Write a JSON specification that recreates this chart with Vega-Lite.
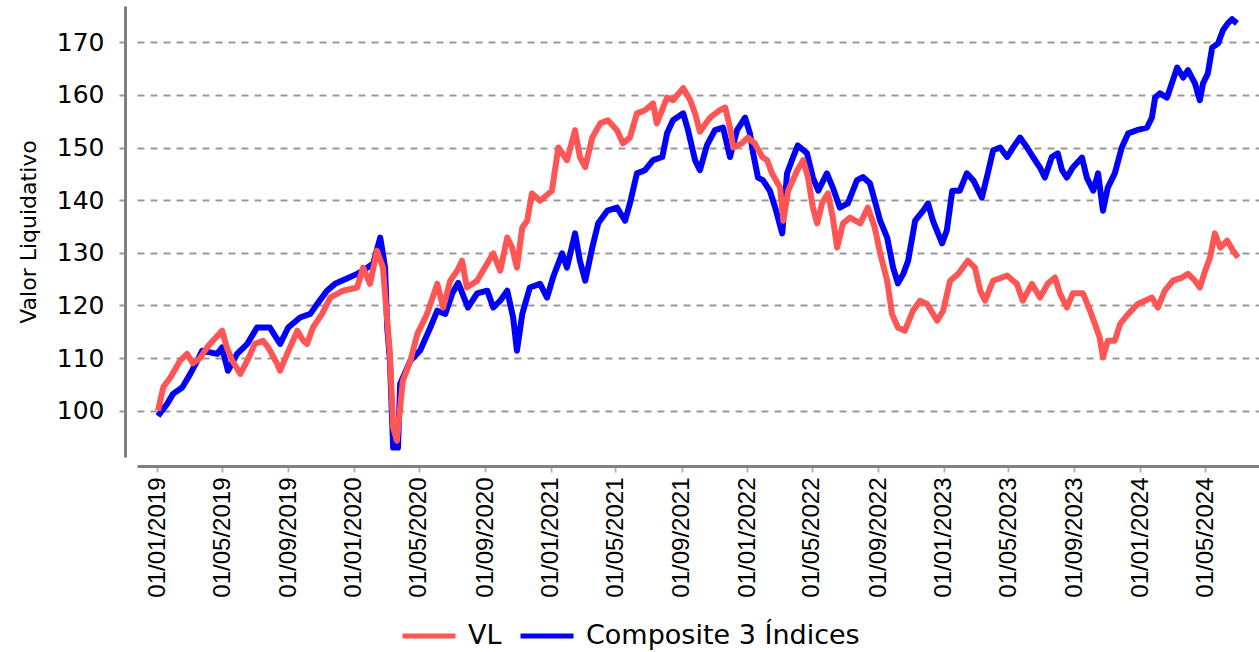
{
  "$schema": "https://vega.github.io/schema/vega-lite/v6.json",
  "autosize": "none",
  "padding": {"left": 137, "top": 6, "right": 0, "bottom": 195},
  "width": 1122,
  "height": 451,
  "background": "white",
  "config": {
    "view": {"stroke": null},
    "axis": {"labelColor": "black", "titleColor": "black"}
  },
  "data": {
    "values": [
      {"fecha": "2019-01-02", "serie": "Composite 3 Índices", "valor": 99},
      {"fecha": "2019-01-19", "serie": "Composite 3 Índices", "valor": 101.3},
      {"fecha": "2019-01-30", "serie": "Composite 3 Índices", "valor": 103.2},
      {"fecha": "2019-02-16", "serie": "Composite 3 Índices", "valor": 104.4},
      {"fecha": "2019-03-03", "serie": "Composite 3 Índices", "valor": 107},
      {"fecha": "2019-03-16", "serie": "Composite 3 Índices", "valor": 109.5},
      {"fecha": "2019-03-25", "serie": "Composite 3 Índices", "valor": 111.4},
      {"fecha": "2019-04-22", "serie": "Composite 3 Índices", "valor": 110.8},
      {"fecha": "2019-05-01", "serie": "Composite 3 Índices", "valor": 112},
      {"fecha": "2019-05-12", "serie": "Composite 3 Índices", "valor": 107.6},
      {"fecha": "2019-05-29", "serie": "Composite 3 Índices", "valor": 110.8},
      {"fecha": "2019-06-17", "serie": "Composite 3 Índices", "valor": 112.7},
      {"fecha": "2019-07-05", "serie": "Composite 3 Índices", "valor": 115.8},
      {"fecha": "2019-07-29", "serie": "Composite 3 Índices", "valor": 115.8},
      {"fecha": "2019-08-17", "serie": "Composite 3 Índices", "valor": 112.7},
      {"fecha": "2019-09-01", "serie": "Composite 3 Índices", "valor": 115.8},
      {"fecha": "2019-09-23", "serie": "Composite 3 Índices", "valor": 117.7},
      {"fecha": "2019-10-12", "serie": "Composite 3 Índices", "valor": 118.4},
      {"fecha": "2019-10-25", "serie": "Composite 3 Índices", "valor": 120.3},
      {"fecha": "2019-11-12", "serie": "Composite 3 Índices", "valor": 122.8},
      {"fecha": "2019-11-27", "serie": "Composite 3 Índices", "valor": 124.1},
      {"fecha": "2019-12-19", "serie": "Composite 3 Índices", "valor": 125.1},
      {"fecha": "2020-01-07", "serie": "Composite 3 Índices", "valor": 126},
      {"fecha": "2020-01-18", "serie": "Composite 3 Índices", "valor": 126.6},
      {"fecha": "2020-02-06", "serie": "Composite 3 Índices", "valor": 128},
      {"fecha": "2020-02-19", "serie": "Composite 3 Índices", "valor": 132.9},
      {"fecha": "2020-02-28", "serie": "Composite 3 Índices", "valor": 127.2},
      {"fecha": "2020-03-03", "serie": "Composite 3 Índices", "valor": 115.8},
      {"fecha": "2020-03-08", "serie": "Composite 3 Índices", "valor": 109.5},
      {"fecha": "2020-03-14", "serie": "Composite 3 Índices", "valor": 93},
      {"fecha": "2020-03-23", "serie": "Composite 3 Índices", "valor": 93},
      {"fecha": "2020-03-27", "serie": "Composite 3 Índices", "valor": 105.1},
      {"fecha": "2020-04-15", "serie": "Composite 3 Índices", "valor": 109.5},
      {"fecha": "2020-05-03", "serie": "Composite 3 Índices", "valor": 111.4},
      {"fecha": "2020-05-22", "serie": "Composite 3 Índices", "valor": 115.8},
      {"fecha": "2020-06-04", "serie": "Composite 3 Índices", "valor": 119},
      {"fecha": "2020-06-19", "serie": "Composite 3 Índices", "valor": 118.4},
      {"fecha": "2020-07-02", "serie": "Composite 3 Índices", "valor": 122.3},
      {"fecha": "2020-07-13", "serie": "Composite 3 Índices", "valor": 124.3},
      {"fecha": "2020-07-31", "serie": "Composite 3 Índices", "valor": 119.6},
      {"fecha": "2020-08-17", "serie": "Composite 3 Índices", "valor": 122.3},
      {"fecha": "2020-09-05", "serie": "Composite 3 Índices", "valor": 122.8},
      {"fecha": "2020-09-16", "serie": "Composite 3 Índices", "valor": 119.6},
      {"fecha": "2020-09-29", "serie": "Composite 3 Índices", "valor": 120.9},
      {"fecha": "2020-10-12", "serie": "Composite 3 Índices", "valor": 122.8},
      {"fecha": "2020-10-23", "serie": "Composite 3 Índices", "valor": 117.7},
      {"fecha": "2020-10-30", "serie": "Composite 3 Índices", "valor": 111.4},
      {"fecha": "2020-11-09", "serie": "Composite 3 Índices", "valor": 118.4},
      {"fecha": "2020-11-23", "serie": "Composite 3 Índices", "valor": 123.4},
      {"fecha": "2020-12-12", "serie": "Composite 3 Índices", "valor": 124.1},
      {"fecha": "2020-12-25", "serie": "Composite 3 Índices", "valor": 121.5},
      {"fecha": "2021-01-05", "serie": "Composite 3 Índices", "valor": 125.3},
      {"fecha": "2021-01-22", "serie": "Composite 3 Índices", "valor": 129.9},
      {"fecha": "2021-01-31", "serie": "Composite 3 Índices", "valor": 127.2},
      {"fecha": "2021-02-15", "serie": "Composite 3 Índices", "valor": 133.7},
      {"fecha": "2021-02-24", "serie": "Composite 3 Índices", "valor": 128.5},
      {"fecha": "2021-03-06", "serie": "Composite 3 Índices", "valor": 124.7},
      {"fecha": "2021-03-19", "serie": "Composite 3 Índices", "valor": 131},
      {"fecha": "2021-03-30", "serie": "Composite 3 Índices", "valor": 135.6},
      {"fecha": "2021-04-16", "serie": "Composite 3 Índices", "valor": 138},
      {"fecha": "2021-05-04", "serie": "Composite 3 Índices", "valor": 138.6},
      {"fecha": "2021-05-19", "serie": "Composite 3 Índices", "valor": 136.1},
      {"fecha": "2021-05-28", "serie": "Composite 3 Índices", "valor": 139.4},
      {"fecha": "2021-06-10", "serie": "Composite 3 Índices", "valor": 145.1},
      {"fecha": "2021-06-25", "serie": "Composite 3 Índices", "valor": 145.7},
      {"fecha": "2021-07-10", "serie": "Composite 3 Índices", "valor": 147.6},
      {"fecha": "2021-07-27", "serie": "Composite 3 Índices", "valor": 148.2},
      {"fecha": "2021-08-05", "serie": "Composite 3 Índices", "valor": 152.7},
      {"fecha": "2021-08-16", "serie": "Composite 3 Índices", "valor": 155.2},
      {"fecha": "2021-09-04", "serie": "Composite 3 Índices", "valor": 156.5},
      {"fecha": "2021-09-13", "serie": "Composite 3 Índices", "valor": 153.3},
      {"fecha": "2021-09-26", "serie": "Composite 3 Índices", "valor": 147.6},
      {"fecha": "2021-10-05", "serie": "Composite 3 Índices", "valor": 145.7},
      {"fecha": "2021-10-18", "serie": "Composite 3 Índices", "valor": 150.4},
      {"fecha": "2021-11-02", "serie": "Composite 3 Índices", "valor": 153.3},
      {"fecha": "2021-11-17", "serie": "Composite 3 Índices", "valor": 153.8},
      {"fecha": "2021-11-30", "serie": "Composite 3 Índices", "valor": 148.2},
      {"fecha": "2021-12-13", "serie": "Composite 3 Índices", "valor": 153.3},
      {"fecha": "2021-12-28", "serie": "Composite 3 Índices", "valor": 155.7},
      {"fecha": "2022-01-06", "serie": "Composite 3 Índices", "valor": 152.7},
      {"fecha": "2022-01-12", "serie": "Composite 3 Índices", "valor": 148.9},
      {"fecha": "2022-01-21", "serie": "Composite 3 Índices", "valor": 144.3},
      {"fecha": "2022-01-30", "serie": "Composite 3 Índices", "valor": 143.8},
      {"fecha": "2022-02-12", "serie": "Composite 3 Índices", "valor": 141.8},
      {"fecha": "2022-02-22", "serie": "Composite 3 Índices", "valor": 138.6},
      {"fecha": "2022-03-07", "serie": "Composite 3 Índices", "valor": 133.7},
      {"fecha": "2022-03-16", "serie": "Composite 3 Índices", "valor": 145.1},
      {"fecha": "2022-03-25", "serie": "Composite 3 Índices", "valor": 147.6},
      {"fecha": "2022-04-05", "serie": "Composite 3 Índices", "valor": 150.4},
      {"fecha": "2022-04-22", "serie": "Composite 3 Índices", "valor": 148.9},
      {"fecha": "2022-05-03", "serie": "Composite 3 Índices", "valor": 144.3},
      {"fecha": "2022-05-13", "serie": "Composite 3 Índices", "valor": 141.8},
      {"fecha": "2022-05-29", "serie": "Composite 3 Índices", "valor": 145.1},
      {"fecha": "2022-06-09", "serie": "Composite 3 Índices", "valor": 142.4},
      {"fecha": "2022-06-22", "serie": "Composite 3 Índices", "valor": 138.6},
      {"fecha": "2022-07-07", "serie": "Composite 3 Índices", "valor": 139.4},
      {"fecha": "2022-07-24", "serie": "Composite 3 Índices", "valor": 143.8},
      {"fecha": "2022-08-04", "serie": "Composite 3 Índices", "valor": 144.4},
      {"fecha": "2022-08-17", "serie": "Composite 3 Índices", "valor": 143.2},
      {"fecha": "2022-08-26", "serie": "Composite 3 Índices", "valor": 139.9},
      {"fecha": "2022-09-05", "serie": "Composite 3 Índices", "valor": 136.1},
      {"fecha": "2022-09-18", "serie": "Composite 3 Índices", "valor": 132.9},
      {"fecha": "2022-09-29", "serie": "Composite 3 Índices", "valor": 127.2},
      {"fecha": "2022-10-08", "serie": "Composite 3 Índices", "valor": 124.2},
      {"fecha": "2022-10-18", "serie": "Composite 3 Índices", "valor": 126},
      {"fecha": "2022-10-27", "serie": "Composite 3 Índices", "valor": 128.5},
      {"fecha": "2022-11-09", "serie": "Composite 3 Índices", "valor": 136.1},
      {"fecha": "2022-11-24", "serie": "Composite 3 Índices", "valor": 138},
      {"fecha": "2022-12-03", "serie": "Composite 3 Índices", "valor": 139.4},
      {"fecha": "2022-12-12", "serie": "Composite 3 Índices", "valor": 136.1},
      {"fecha": "2022-12-29", "serie": "Composite 3 Índices", "valor": 131.8},
      {"fecha": "2023-01-07", "serie": "Composite 3 Índices", "valor": 134.3},
      {"fecha": "2023-01-17", "serie": "Composite 3 Índices", "valor": 141.8},
      {"fecha": "2023-01-31", "serie": "Composite 3 Índices", "valor": 141.8},
      {"fecha": "2023-02-13", "serie": "Composite 3 Índices", "valor": 145.1},
      {"fecha": "2023-02-25", "serie": "Composite 3 Índices", "valor": 143.8},
      {"fecha": "2023-03-13", "serie": "Composite 3 Índices", "valor": 140.5},
      {"fecha": "2023-03-24", "serie": "Composite 3 Índices", "valor": 145.1},
      {"fecha": "2023-04-03", "serie": "Composite 3 Índices", "valor": 149.5},
      {"fecha": "2023-04-16", "serie": "Composite 3 Índices", "valor": 150},
      {"fecha": "2023-04-29", "serie": "Composite 3 Índices", "valor": 148.2},
      {"fecha": "2023-05-10", "serie": "Composite 3 Índices", "valor": 150},
      {"fecha": "2023-05-23", "serie": "Composite 3 Índices", "valor": 151.9},
      {"fecha": "2023-06-05", "serie": "Composite 3 Índices", "valor": 150},
      {"fecha": "2023-06-16", "serie": "Composite 3 Índices", "valor": 148.2},
      {"fecha": "2023-06-29", "serie": "Composite 3 Índices", "valor": 146.2},
      {"fecha": "2023-07-08", "serie": "Composite 3 Índices", "valor": 144.3},
      {"fecha": "2023-07-21", "serie": "Composite 3 Índices", "valor": 148.2},
      {"fecha": "2023-08-01", "serie": "Composite 3 Índices", "valor": 148.9},
      {"fecha": "2023-08-09", "serie": "Composite 3 Índices", "valor": 145.7},
      {"fecha": "2023-08-18", "serie": "Composite 3 Índices", "valor": 144.3},
      {"fecha": "2023-08-29", "serie": "Composite 3 Índices", "valor": 146.2},
      {"fecha": "2023-09-15", "serie": "Composite 3 Índices", "valor": 148.1},
      {"fecha": "2023-09-24", "serie": "Composite 3 Índices", "valor": 144.3},
      {"fecha": "2023-10-06", "serie": "Composite 3 Índices", "valor": 141.8},
      {"fecha": "2023-10-15", "serie": "Composite 3 Índices", "valor": 145.1},
      {"fecha": "2023-10-24", "serie": "Composite 3 Índices", "valor": 138},
      {"fecha": "2023-11-02", "serie": "Composite 3 Índices", "valor": 142.4},
      {"fecha": "2023-11-15", "serie": "Composite 3 Índices", "valor": 145.1},
      {"fecha": "2023-11-28", "serie": "Composite 3 Índices", "valor": 150},
      {"fecha": "2023-12-10", "serie": "Composite 3 Índices", "valor": 152.7},
      {"fecha": "2023-12-26", "serie": "Composite 3 Índices", "valor": 153.3},
      {"fecha": "2024-01-14", "serie": "Composite 3 Índices", "valor": 153.8},
      {"fecha": "2024-01-23", "serie": "Composite 3 Índices", "valor": 155.7},
      {"fecha": "2024-01-29", "serie": "Composite 3 Índices", "valor": 159.5},
      {"fecha": "2024-02-07", "serie": "Composite 3 Índices", "valor": 160.3},
      {"fecha": "2024-02-20", "serie": "Composite 3 Índices", "valor": 159.5},
      {"fecha": "2024-02-29", "serie": "Composite 3 Índices", "valor": 162.2},
      {"fecha": "2024-03-10", "serie": "Composite 3 Índices", "valor": 165.2},
      {"fecha": "2024-03-21", "serie": "Composite 3 Índices", "valor": 163.3},
      {"fecha": "2024-03-30", "serie": "Composite 3 Índices", "valor": 164.7},
      {"fecha": "2024-04-12", "serie": "Composite 3 Índices", "valor": 162.2},
      {"fecha": "2024-04-21", "serie": "Composite 3 Índices", "valor": 159},
      {"fecha": "2024-04-27", "serie": "Composite 3 Índices", "valor": 162.2},
      {"fecha": "2024-05-06", "serie": "Composite 3 Índices", "valor": 164.1},
      {"fecha": "2024-05-14", "serie": "Composite 3 Índices", "valor": 169},
      {"fecha": "2024-05-25", "serie": "Composite 3 Índices", "valor": 169.8},
      {"fecha": "2024-06-03", "serie": "Composite 3 Índices", "valor": 172.3},
      {"fecha": "2024-06-12", "serie": "Composite 3 Índices", "valor": 173.6},
      {"fecha": "2024-06-20", "serie": "Composite 3 Índices", "valor": 174.4},
      {"fecha": "2024-06-29", "serie": "Composite 3 Índices", "valor": 173.6},
      {"fecha": "2019-01-02", "serie": "VL", "valor": 100},
      {"fecha": "2019-01-12", "serie": "VL", "valor": 104.5},
      {"fecha": "2019-01-25", "serie": "VL", "valor": 106.3},
      {"fecha": "2019-02-12", "serie": "VL", "valor": 109.5},
      {"fecha": "2019-02-25", "serie": "VL", "valor": 110.8},
      {"fecha": "2019-03-08", "serie": "VL", "valor": 109},
      {"fecha": "2019-03-21", "serie": "VL", "valor": 110},
      {"fecha": "2019-04-03", "serie": "VL", "valor": 112},
      {"fecha": "2019-04-14", "serie": "VL", "valor": 113.3},
      {"fecha": "2019-05-01", "serie": "VL", "valor": 115.2},
      {"fecha": "2019-05-10", "serie": "VL", "valor": 112},
      {"fecha": "2019-05-20", "serie": "VL", "valor": 109.5},
      {"fecha": "2019-06-04", "serie": "VL", "valor": 107},
      {"fecha": "2019-06-17", "serie": "VL", "valor": 109.5},
      {"fecha": "2019-07-01", "serie": "VL", "valor": 112.7},
      {"fecha": "2019-07-16", "serie": "VL", "valor": 113.3},
      {"fecha": "2019-07-26", "serie": "VL", "valor": 112},
      {"fecha": "2019-08-11", "serie": "VL", "valor": 109},
      {"fecha": "2019-08-17", "serie": "VL", "valor": 107.6},
      {"fecha": "2019-08-30", "serie": "VL", "valor": 110.8},
      {"fecha": "2019-09-18", "serie": "VL", "valor": 115.2},
      {"fecha": "2019-09-29", "serie": "VL", "valor": 113.3},
      {"fecha": "2019-10-06", "serie": "VL", "valor": 112.7},
      {"fecha": "2019-10-17", "serie": "VL", "valor": 115.8},
      {"fecha": "2019-11-03", "serie": "VL", "valor": 118.4},
      {"fecha": "2019-11-18", "serie": "VL", "valor": 121.5},
      {"fecha": "2019-12-12", "serie": "VL", "valor": 122.8},
      {"fecha": "2020-01-07", "serie": "VL", "valor": 123.4},
      {"fecha": "2020-01-18", "serie": "VL", "valor": 127.2},
      {"fecha": "2020-01-31", "serie": "VL", "valor": 124.1},
      {"fecha": "2020-02-13", "serie": "VL", "valor": 130.4},
      {"fecha": "2020-02-24", "serie": "VL", "valor": 127.2},
      {"fecha": "2020-03-03", "serie": "VL", "valor": 117.1},
      {"fecha": "2020-03-08", "serie": "VL", "valor": 110.8},
      {"fecha": "2020-03-14", "serie": "VL", "valor": 96.8},
      {"fecha": "2020-03-21", "serie": "VL", "valor": 94.3},
      {"fecha": "2020-03-27", "serie": "VL", "valor": 100.6},
      {"fecha": "2020-04-01", "serie": "VL", "valor": 105.7},
      {"fecha": "2020-04-15", "serie": "VL", "valor": 109.5},
      {"fecha": "2020-04-28", "serie": "VL", "valor": 114.6},
      {"fecha": "2020-05-16", "serie": "VL", "valor": 118.4},
      {"fecha": "2020-06-04", "serie": "VL", "valor": 124.1},
      {"fecha": "2020-06-15", "serie": "VL", "valor": 119.6},
      {"fecha": "2020-06-28", "serie": "VL", "valor": 124.7},
      {"fecha": "2020-07-11", "serie": "VL", "valor": 126.6},
      {"fecha": "2020-07-20", "serie": "VL", "valor": 128.5},
      {"fecha": "2020-07-29", "serie": "VL", "valor": 123.4},
      {"fecha": "2020-08-17", "serie": "VL", "valor": 124.7},
      {"fecha": "2020-09-05", "serie": "VL", "valor": 128},
      {"fecha": "2020-09-16", "serie": "VL", "valor": 129.9},
      {"fecha": "2020-09-29", "serie": "VL", "valor": 126.6},
      {"fecha": "2020-10-12", "serie": "VL", "valor": 132.9},
      {"fecha": "2020-10-21", "serie": "VL", "valor": 131},
      {"fecha": "2020-10-30", "serie": "VL", "valor": 127.2},
      {"fecha": "2020-11-09", "serie": "VL", "valor": 134.8},
      {"fecha": "2020-11-18", "serie": "VL", "valor": 136.1},
      {"fecha": "2020-11-27", "serie": "VL", "valor": 141.3},
      {"fecha": "2020-12-12", "serie": "VL", "valor": 139.9},
      {"fecha": "2021-01-03", "serie": "VL", "valor": 141.8},
      {"fecha": "2021-01-15", "serie": "VL", "valor": 150},
      {"fecha": "2021-01-31", "serie": "VL", "valor": 147.6},
      {"fecha": "2021-02-15", "serie": "VL", "valor": 153.3},
      {"fecha": "2021-02-24", "serie": "VL", "valor": 148.2},
      {"fecha": "2021-03-06", "serie": "VL", "valor": 146.3},
      {"fecha": "2021-03-19", "serie": "VL", "valor": 151.9},
      {"fecha": "2021-04-03", "serie": "VL", "valor": 154.6},
      {"fecha": "2021-04-17", "serie": "VL", "valor": 155.2},
      {"fecha": "2021-05-04", "serie": "VL", "valor": 153.3},
      {"fecha": "2021-05-15", "serie": "VL", "valor": 150.8},
      {"fecha": "2021-05-28", "serie": "VL", "valor": 151.9},
      {"fecha": "2021-06-10", "serie": "VL", "valor": 156.5},
      {"fecha": "2021-06-25", "serie": "VL", "valor": 157.1},
      {"fecha": "2021-07-10", "serie": "VL", "valor": 158.4},
      {"fecha": "2021-07-17", "serie": "VL", "valor": 154.6},
      {"fecha": "2021-08-05", "serie": "VL", "valor": 159.5},
      {"fecha": "2021-08-16", "serie": "VL", "valor": 159},
      {"fecha": "2021-09-04", "serie": "VL", "valor": 161.3},
      {"fecha": "2021-09-17", "serie": "VL", "valor": 159},
      {"fecha": "2021-09-26", "serie": "VL", "valor": 156.5},
      {"fecha": "2021-10-05", "serie": "VL", "valor": 153},
      {"fecha": "2021-10-24", "serie": "VL", "valor": 155.7},
      {"fecha": "2021-11-11", "serie": "VL", "valor": 157.1},
      {"fecha": "2021-11-21", "serie": "VL", "valor": 157.6},
      {"fecha": "2021-11-30", "serie": "VL", "valor": 153.8},
      {"fecha": "2021-12-06", "serie": "VL", "valor": 150},
      {"fecha": "2021-12-22", "serie": "VL", "valor": 150.8},
      {"fecha": "2022-01-02", "serie": "VL", "valor": 151.9},
      {"fecha": "2022-01-15", "serie": "VL", "valor": 150.8},
      {"fecha": "2022-01-29", "serie": "VL", "valor": 148.2},
      {"fecha": "2022-02-07", "serie": "VL", "valor": 147.6},
      {"fecha": "2022-02-16", "serie": "VL", "valor": 145.1},
      {"fecha": "2022-03-03", "serie": "VL", "valor": 142.4},
      {"fecha": "2022-03-09", "serie": "VL", "valor": 136.1},
      {"fecha": "2022-03-18", "serie": "VL", "valor": 141.8},
      {"fecha": "2022-04-04", "serie": "VL", "valor": 145.7},
      {"fecha": "2022-04-15", "serie": "VL", "valor": 147.6},
      {"fecha": "2022-04-24", "serie": "VL", "valor": 144.3},
      {"fecha": "2022-05-03", "serie": "VL", "valor": 138.6},
      {"fecha": "2022-05-11", "serie": "VL", "valor": 135.6},
      {"fecha": "2022-05-20", "serie": "VL", "valor": 139.4},
      {"fecha": "2022-05-31", "serie": "VL", "valor": 141.3},
      {"fecha": "2022-06-09", "serie": "VL", "valor": 136.7},
      {"fecha": "2022-06-17", "serie": "VL", "valor": 131},
      {"fecha": "2022-06-28", "serie": "VL", "valor": 135.6},
      {"fecha": "2022-07-11", "serie": "VL", "valor": 136.7},
      {"fecha": "2022-07-30", "serie": "VL", "valor": 135.6},
      {"fecha": "2022-08-13", "serie": "VL", "valor": 138.6},
      {"fecha": "2022-08-26", "serie": "VL", "valor": 134.8},
      {"fecha": "2022-09-05", "serie": "VL", "valor": 129.9},
      {"fecha": "2022-09-18", "serie": "VL", "valor": 124.7},
      {"fecha": "2022-09-27", "serie": "VL", "valor": 118.4},
      {"fecha": "2022-10-08", "serie": "VL", "valor": 115.8},
      {"fecha": "2022-10-21", "serie": "VL", "valor": 115.2},
      {"fecha": "2022-11-05", "serie": "VL", "valor": 119},
      {"fecha": "2022-11-18", "serie": "VL", "valor": 120.9},
      {"fecha": "2022-12-01", "serie": "VL", "valor": 120.3},
      {"fecha": "2022-12-20", "serie": "VL", "valor": 117.1},
      {"fecha": "2022-12-31", "serie": "VL", "valor": 119},
      {"fecha": "2023-01-13", "serie": "VL", "valor": 124.7},
      {"fecha": "2023-01-28", "serie": "VL", "valor": 126},
      {"fecha": "2023-02-15", "serie": "VL", "valor": 128.5},
      {"fecha": "2023-02-28", "serie": "VL", "valor": 127.2},
      {"fecha": "2023-03-10", "serie": "VL", "valor": 122.8},
      {"fecha": "2023-03-19", "serie": "VL", "valor": 120.9},
      {"fecha": "2023-04-03", "serie": "VL", "valor": 124.7},
      {"fecha": "2023-04-29", "serie": "VL", "valor": 125.7},
      {"fecha": "2023-05-17", "serie": "VL", "valor": 124.1},
      {"fecha": "2023-05-28", "serie": "VL", "valor": 120.9},
      {"fecha": "2023-06-14", "serie": "VL", "valor": 124.1},
      {"fecha": "2023-06-29", "serie": "VL", "valor": 121.5},
      {"fecha": "2023-07-14", "serie": "VL", "valor": 124.2},
      {"fecha": "2023-07-27", "serie": "VL", "valor": 125.3},
      {"fecha": "2023-08-05", "serie": "VL", "valor": 122.3},
      {"fecha": "2023-08-18", "serie": "VL", "valor": 119.6},
      {"fecha": "2023-08-29", "serie": "VL", "valor": 122.3},
      {"fecha": "2023-09-17", "serie": "VL", "valor": 122.3},
      {"fecha": "2023-09-30", "serie": "VL", "valor": 119},
      {"fecha": "2023-10-09", "serie": "VL", "valor": 116.5},
      {"fecha": "2023-10-18", "serie": "VL", "valor": 113.9},
      {"fecha": "2023-10-24", "serie": "VL", "valor": 110.1},
      {"fecha": "2023-11-02", "serie": "VL", "valor": 113.3},
      {"fecha": "2023-11-15", "serie": "VL", "valor": 113.3},
      {"fecha": "2023-11-25", "serie": "VL", "valor": 116.5},
      {"fecha": "2023-12-10", "serie": "VL", "valor": 118.4},
      {"fecha": "2023-12-28", "serie": "VL", "valor": 120.3},
      {"fecha": "2024-01-10", "serie": "VL", "valor": 120.9},
      {"fecha": "2024-01-23", "serie": "VL", "valor": 121.5},
      {"fecha": "2024-02-03", "serie": "VL", "valor": 119.6},
      {"fecha": "2024-02-16", "serie": "VL", "valor": 122.8},
      {"fecha": "2024-03-02", "serie": "VL", "valor": 124.7},
      {"fecha": "2024-03-19", "serie": "VL", "valor": 125.3},
      {"fecha": "2024-03-30", "serie": "VL", "valor": 126},
      {"fecha": "2024-04-12", "serie": "VL", "valor": 124.7},
      {"fecha": "2024-04-21", "serie": "VL", "valor": 123.4},
      {"fecha": "2024-05-01", "serie": "VL", "valor": 126.6},
      {"fecha": "2024-05-10", "serie": "VL", "valor": 129.1},
      {"fecha": "2024-05-19", "serie": "VL", "valor": 133.7},
      {"fecha": "2024-05-29", "serie": "VL", "valor": 131},
      {"fecha": "2024-06-11", "serie": "VL", "valor": 132.3},
      {"fecha": "2024-06-22", "serie": "VL", "valor": 130.4},
      {"fecha": "2024-07-01", "serie": "VL", "valor": 129.1}
    ]
  },
  "encoding": {
    "x": {
      "field": "fecha",
      "type": "temporal",
      "title": null,
      "scale": {
        "type": "utc",
        "domain": [
          {"year": 2018, "month": 11, "date": 24, "utc": true},
          {"year": 2024, "month": 8, "date": 9, "utc": true}
        ]
      },
      "axis": {
        "offset": 9,
        "grid": false,
        "format": "%d/%m/%Y",
        "labelAngle": 270,
        "labelFont": "Liberation Sans",
        "labelFontSize": 24,
        "labelPadding": 5,
        "labelOverlap": false,
        "labelFlush": false,
        "domainColor": "#808080",
        "domainWidth": 3,
        "tickColor": "#b8b8b8",
        "tickWidth": 2,
        "tickSize": 6,
        "values": [
          {"year": 2019, "month": 1, "date": 1, "utc": true},
          {"year": 2019, "month": 5, "date": 1, "utc": true},
          {"year": 2019, "month": 9, "date": 1, "utc": true},
          {"year": 2020, "month": 1, "date": 1, "utc": true},
          {"year": 2020, "month": 5, "date": 1, "utc": true},
          {"year": 2020, "month": 9, "date": 1, "utc": true},
          {"year": 2021, "month": 1, "date": 1, "utc": true},
          {"year": 2021, "month": 5, "date": 1, "utc": true},
          {"year": 2021, "month": 9, "date": 1, "utc": true},
          {"year": 2022, "month": 1, "date": 1, "utc": true},
          {"year": 2022, "month": 5, "date": 1, "utc": true},
          {"year": 2022, "month": 9, "date": 1, "utc": true},
          {"year": 2023, "month": 1, "date": 1, "utc": true},
          {"year": 2023, "month": 5, "date": 1, "utc": true},
          {"year": 2023, "month": 9, "date": 1, "utc": true},
          {"year": 2024, "month": 1, "date": 1, "utc": true},
          {"year": 2024, "month": 5, "date": 1, "utc": true}
        ]
      }
    },
    "y": {
      "field": "valor",
      "type": "quantitative",
      "title": "Valor Liquidativo",
      "scale": {"domain": [91.2, 176.9], "nice": false, "zero": false},
      "axis": {
        "offset": 12,
        "values": [100, 110, 120, 130, 140, 150, 160, 170],
        "labelFont": "DejaVu Sans",
        "labelFontSize": 25,
        "labelPadding": 15,
        "tickSize": 6,
        "tickColor": "#999999",
        "tickWidth": 2,
        "domainColor": "#808080",
        "domainWidth": 3,
        "grid": true,
        "gridColor": "#999999",
        "gridWidth": 2,
        "gridDash": [7, 6],
        "titleFont": "DejaVu Sans",
        "titleFontSize": 22,
        "titleFontWeight": "normal",
        "titlePadding": 16
      }
    },
    "color": {
      "field": "serie",
      "type": "nominal",
      "scale": {"domain": ["VL", "Composite 3 Índices"], "range": ["#FF5555", "#0000FF"]},
      "legend": {
        "title": null,
        "orient": "none",
        "direction": "horizontal",
        "legendX": 263,
        "legendY": 601,
        "padding": 0,
        "symbolType": "stroke",
        "symbolSize": 2809,
        "symbolStrokeWidth": 5,
        "labelFont": "DejaVu Sans",
        "labelFontSize": 27,
        "labelColor": "black",
        "labelOffset": 10,
        "columnPadding": 8,
        "labelLimit": 0
      }
    }
  },
  "layer": [
    {
      "transform": [{"filter": "datum.serie === 'Composite 3 Índices'"}],
      "mark": {"type": "line", "strokeWidth": 6, "strokeJoin": "round", "clip": true}
    },
    {
      "transform": [{"filter": "datum.serie === 'VL'"}],
      "mark": {"type": "line", "strokeWidth": 6, "strokeJoin": "round", "clip": true}
    }
  ]
}
